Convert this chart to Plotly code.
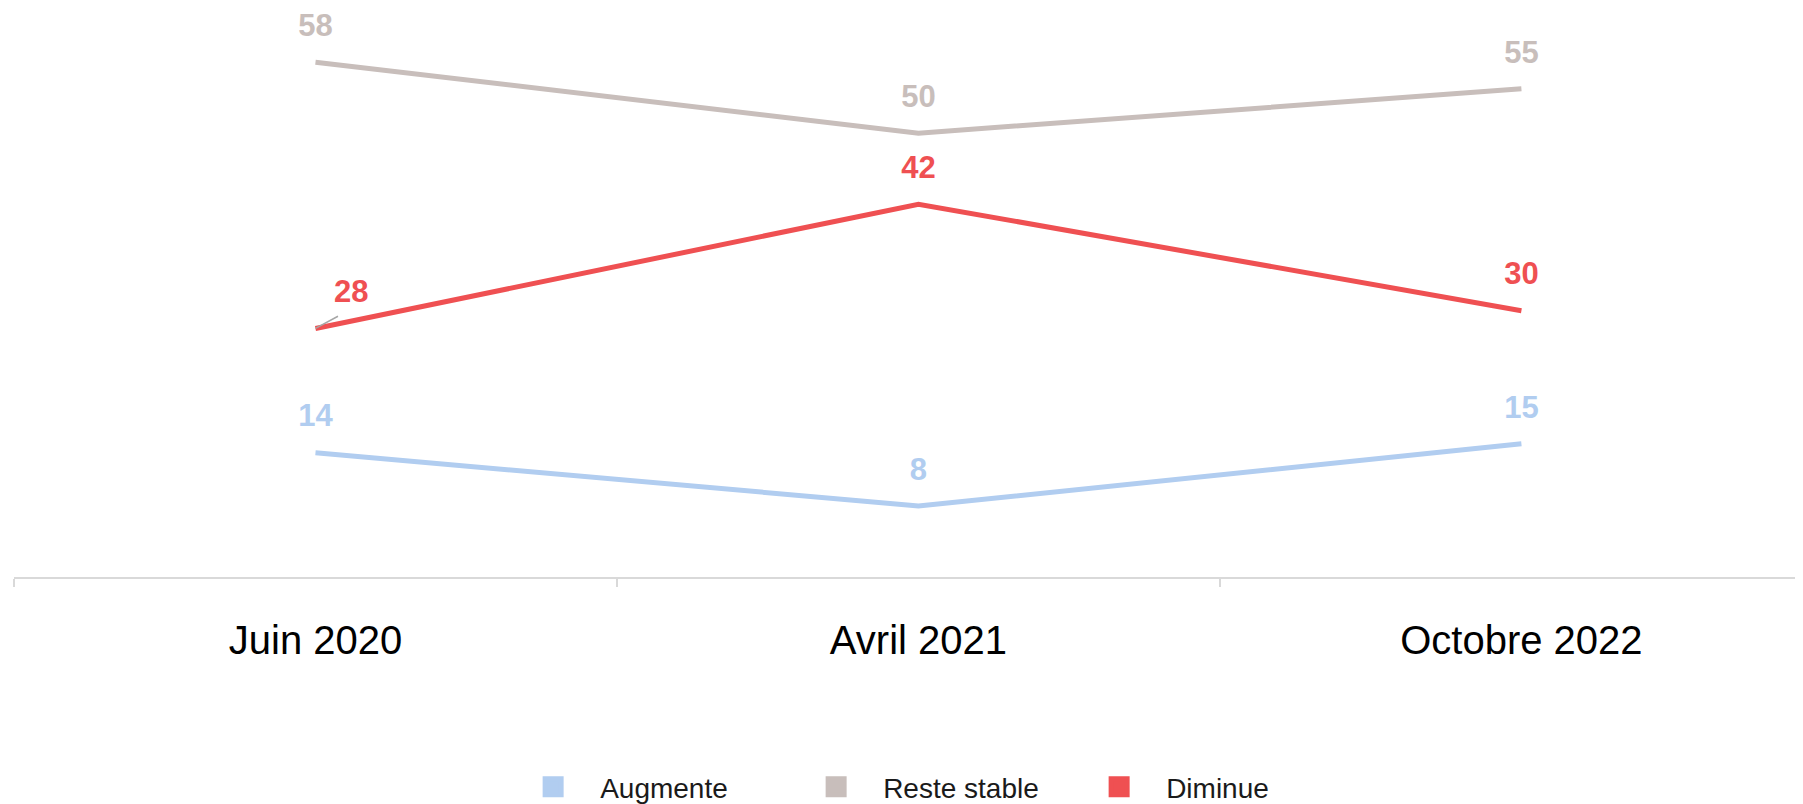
import plotly.graph_objects as go

# survey waves (x categories)
waves = ["Juin 2020", "Avril 2021", "Octobre 2022"]

# answer series, % of respondents
series_names = ["Augmente", "Reste stable", "Diminue"]
augmente = [14, 8, 15]
reste_stable = [58, 50, 55]
diminue = [28, 42, 30]

colors = ["#b1cdf0", "#c8bebb", "#ef5052"]
values = [augmente, reste_stable, diminue]

FONT = "Liberation Sans, Arial, sans-serif"

fig = go.Figure()

for name, vals, col in zip(series_names, values, colors):
    # label for the first "Diminue" point is nudged to the right (leader line below)
    pos = ["top center"] * len(vals)
    if name == "Diminue":
        pos[0] = "top right"
    fig.add_scatter(
        x=waves, y=vals, name=name, mode="lines+markers+text",
        line=dict(color=col, width=5),
        marker=dict(size=28, color=col, opacity=0),
        text=[str(v) for v in vals], textposition=pos,
        textfont=dict(family=FONT, size=31, color=col, weight="bold"),
        showlegend=False, hoverinfo="skip",
    )

# legend keys as squares
for name, col in zip(series_names, colors):
    fig.add_scatter(
        x=[None], y=[None], name=name, mode="markers",
        marker=dict(symbol="square", size=16, color=col,
                    line=dict(color=col, width=5)),
        showlegend=True,
    )

# small leader line from the 28 point to its label
fig.add_annotation(
    x=waves[0], y=diminue[0], ax=24, ay=-13, text="",
    showarrow=True, arrowhead=0, arrowwidth=1.5, arrowcolor="#a6a6a6",
    standoff=0,
)

# page body has an 8px margin, so the figure is 8px smaller than the window
fig.update_layout(
    width=1795, height=796,
    margin=dict(l=6, r=0, t=0, b=227),
    plot_bgcolor="white", paper_bgcolor="white",
    font=dict(family=FONT, color="#000000"),
    xaxis=dict(
        type="category", range=[-0.5, 2.467],
        tickson="boundaries", ticks="outside", ticklen=8, tickwidth=1.5,
        tickcolor="#d9d9d9", showline=True, linecolor="#d9d9d9", linewidth=2,
        showgrid=False, zeroline=False,
        tickfont=dict(family=FONT, size=40, color="#000000"),
        ticklabelstandoff=27,
    ),
    yaxis=dict(range=[0, 64.1], visible=False, showgrid=False, zeroline=False),
    legend=dict(
        orientation="h", xref="container", yref="container",
        x=0.514, xanchor="center", y=0.0214, yanchor="middle",
        font=dict(family=FONT, size=28, color="#1a1a1a"),
        itemwidth=84, entrywidth=184, entrywidthmode="pixels",
        bgcolor="rgba(0,0,0,0)",
    ),
)

fig.write_html("out.html")
